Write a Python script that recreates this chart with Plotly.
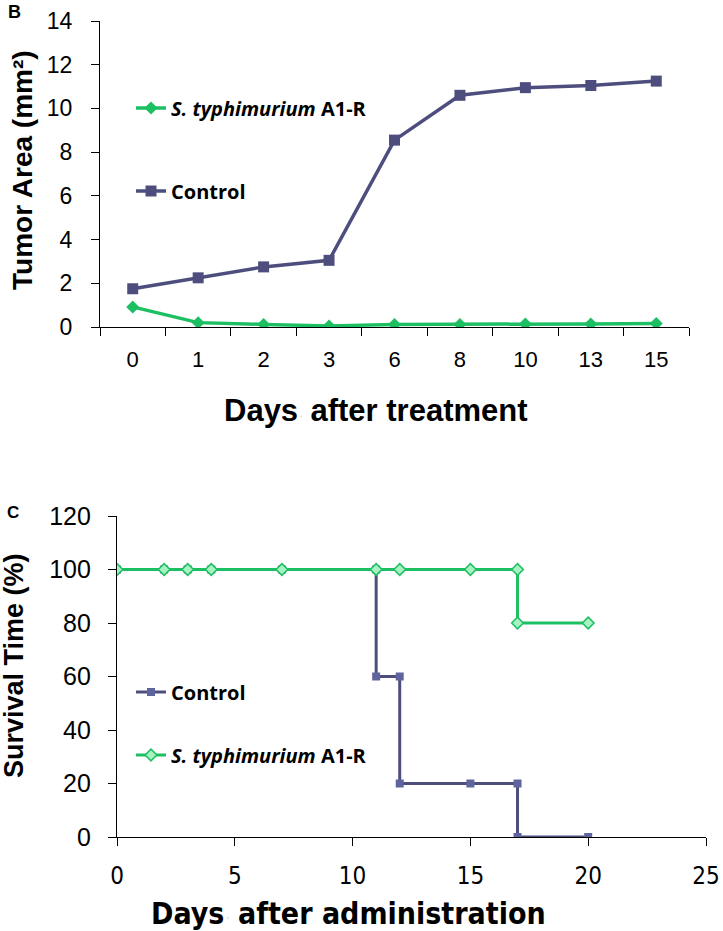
import plotly.graph_objects as go

# ---- Panel B data ----
days_b = ["0", "1", "2", "3", "6", "8", "10", "13", "15"]
control_b = [1.75, 2.25, 2.75, 3.05, 8.55, 10.6, 10.95, 11.05, 11.25]
styph_b = [0.92, 0.2, 0.12, 0.05, 0.12, 0.12, 0.14, 0.14, 0.16]

# ---- Panel C data (Kaplan-Meier style step points) ----
control_c_x = [0, 2, 3, 4, 7, 11, 11, 12, 12, 15, 17, 17, 20]
control_c_y = [100, 100, 100, 100, 100, 100, 60, 60, 20, 20, 20, 0, 0]
styph_c_x = [0, 2, 3, 4, 7, 11, 12, 15, 17, 17, 20]
styph_c_y = [100, 100, 100, 100, 100, 100, 100, 100, 100, 80, 80]

C_DARK = "#4E4E7E"
C_DARK2 = "#5F649C"
C_GREEN = "#1DBF63"
C_LGREEN = "#A6F2C0"

ARIAL = "Liberation Sans, Arial"
NARROW = "Liberation Sans Narrow, Arial Narrow, DejaVu Sans Condensed"
CALIBRI = "Open Sans, Noto Sans"

fig = go.Figure()

# Panel B
fig.add_trace(go.Scatter(
    x=days_b, y=styph_b, mode="lines+markers", name="<b><i>S. typhimurium</i> A1-R</b>",
    line=dict(color=C_GREEN, width=3.5), marker=dict(symbol="diamond", size=10, color=C_GREEN),
    xaxis="x", yaxis="y", legend="legend"))
fig.add_trace(go.Scatter(
    x=days_b, y=control_b, mode="lines+markers", name="<b>Control</b>",
    line=dict(color=C_DARK, width=3.5), marker=dict(symbol="square", size=11, color=C_DARK),
    xaxis="x", yaxis="y", legend="legend2"))

# Panel C
fig.add_trace(go.Scatter(
    x=control_c_x, y=control_c_y, mode="lines+markers", name="<b>Control</b>",
    line=dict(color=C_DARK, width=3), marker=dict(symbol="square", size=8, color=C_DARK2),
    xaxis="x2", yaxis="y2", legend="legend3"))
fig.add_trace(go.Scatter(
    x=styph_c_x, y=styph_c_y, mode="lines+markers", name="<b><i>S. typhimurium</i> A1-R</b>",
    line=dict(color=C_GREEN, width=3),
    marker=dict(symbol="diamond", size=9, color=C_LGREEN, line=dict(color=C_GREEN, width=1.5)),
    xaxis="x2", yaxis="y2", legend="legend4"))

W, H = 723, 931
def px(x):
    return x / W
def py(y):
    return (H - y) / H

axis_common = dict(showline=True, linecolor="black", linewidth=1.2, ticks="outside",
                   tickcolor="black", tickwidth=1.2, showgrid=False, zeroline=False,
                   automargin=False, ticklen=8)

leg_common = dict(bgcolor="rgba(0,0,0,0)", font=dict(family=CALIBRI, size=20, color="black"),
                  xanchor="left", yanchor="middle", itemwidth=30, tracegroupgap=0)

def ann(text, x, y, size, family=ARIAL, angle=0, color="black"):
    return dict(text=text, x=px(x), y=py(y), xref="paper", yref="paper", showarrow=False,
                xanchor="center", yanchor="middle", textangle=angle,
                font=dict(size=size, family=family, color=color))

fig.update_layout(
    width=W, height=H, margin=dict(l=0, r=0, t=0, b=0),
    paper_bgcolor="white", plot_bgcolor="white", showlegend=True,
    font=dict(family=ARIAL, color="black"),
    xaxis=dict(domain=[px(100), px(689)], anchor="y", type="category", tickson="boundaries",
               tickfont=dict(size=22, family=ARIAL), range=[-0.5, 8.5], ticklabelstandoff=12,
               **axis_common),
    yaxis=dict(domain=[py(327), py(21)], anchor="x", range=[0, 14], dtick=2,
               tickfont=dict(size=23, family=ARIAL), ticklabelstandoff=14,
               **axis_common),
    xaxis2=dict(domain=[px(117), px(706)], anchor="y2", range=[0, 25], dtick=5,
                tickfont=dict(size=24, family=NARROW), ticklabelstandoff=9,
                **axis_common),
    yaxis2=dict(domain=[py(837), py(516)], anchor="x2", range=[0, 120], dtick=20,
                tickfont=dict(size=25, family=ARIAL), ticklabelstandoff=12,
                **axis_common),
    legend=dict(x=px(131), y=py(108), **leg_common),
    legend2=dict(x=px(131), y=py(191), **leg_common),
    legend3=dict(x=px(131), y=py(692), **leg_common),
    legend4=dict(x=px(131), y=py(755), **leg_common),
    annotations=[
        ann("<b>B</b>", 14, 12, 18),
        ann("<b>C</b>", 13, 512, 17),
        ann("<b>Tumor Area (mm²)</b>", 22, 170, 28, angle=-90),
        ann("<b>Survival Time (%)</b>", 14, 666, 27, angle=-90),
        ann("<b>Days</b><span style='font-size:8px;color:#bbbbbb'> '</span><b> after treatment</b>",
            376, 410, 31),
        ann("<b>Days</b><span style='font-size:8px;color:#bbbbbb'> '</span><b> after administration</b>",
            348, 913, 30, family=NARROW),
    ],
)

fig.write_html("out.html", config={"displayModeBar": False},
               post_script="document.body.style.margin='0';document.body.style.padding='0';")
